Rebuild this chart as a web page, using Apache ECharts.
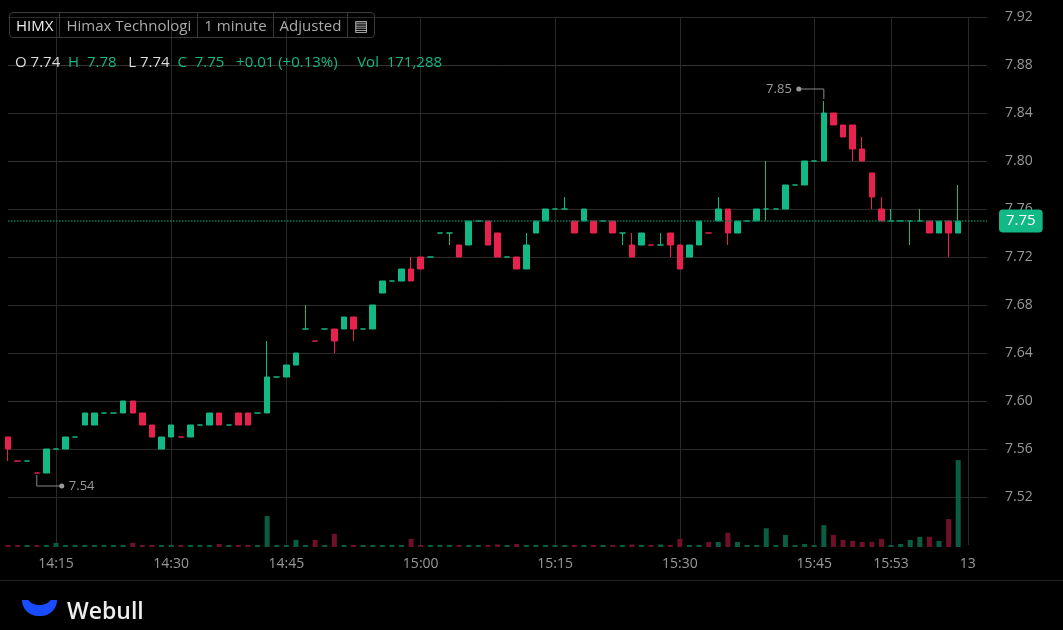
<!DOCTYPE html>
<html>
<head>
<meta charset="utf-8">
<title>HIMX 1 minute</title>
<script src="https://cdn.jsdelivr.net/npm/echarts@6/dist/echarts.min.js"></script>
<style>
  html, body { margin: 0; padding: 0; background: #000; font-family: "Open Sans", sans-serif; }
  #chart { width: 1063px; height: 630px; }
  .hdr { position: absolute; left: 9px; top: 12px; height: 24px; border: 1px solid #3a3a3a; border-radius: 4px; display: flex; font-size: 15px; color: #aaa; }
  .hdr span { padding: 0 6px; line-height: 24px; border-right: 1px solid #3a3a3a; }
  .hdr span:last-child { border-right: none; }
  .ohlc { position: absolute; left: 15px; top: 51px; font-size: 15px; color: #ddd; white-space: pre; }
  .g { color: #12b886; }
  .logo { position: absolute; left: 22px; top: 594px; display: flex; align-items: center; color: #eee; font-size: 23px; font-weight: 600; }
  .moon { position: relative; width: 35px; height: 16px; border-radius: 0 0 18px 18px; background: #1a4cff; margin-right: 10px; margin-top: -4px; overflow: hidden; }
  .moon:after { content: ''; position: absolute; left: 3px; top: -9px; width: 29px; height: 14px; border-radius: 0 0 15px 15px; background: #000; }
  .sep { position: absolute; left: 0; top: 580px; width: 1063px; height: 1px; background: #222; }
</style>
</head>
<body>
<div id="chart"></div>
<div class="sep"></div>
<div class="hdr"><span style="color:#eee">HIMX</span><span>Himax Technologi</span><span>1 minute</span><span>Adjusted</span><span style="color:#ccc">&#9636;</span></div>
<div class="ohlc">O 7.74  <span class="g">H  7.78</span>   L 7.74  <span class="g">C  7.75   +0.01 (+0.13%)     Vol  171,288</span></div>
<div class="logo"><div class="moon"></div>Webull</div>
<script>
// 1 minute bars, 100 candles
var opens  = [7.57,7.55,7.55,7.54,7.54,7.56,7.56,7.57,7.58,7.58,7.59,7.59,7.59,7.60,7.59,7.58,7.56,7.57,7.57,7.57,
              7.58,7.58,7.59,7.58,7.59,7.59,7.59,7.59,7.62,7.62,7.63,7.66,7.65,7.66,7.66,7.66,7.67,7.66,7.66,7.69,
              7.70,7.70,7.71,7.72,7.72,7.74,7.74,7.73,7.73,7.75,7.75,7.74,7.72,7.72,7.71,7.74,7.75,7.76,7.76,7.75,
              7.75,7.75,7.75,7.75,7.74,7.73,7.73,7.73,7.73,7.74,7.73,7.72,7.73,7.74,7.75,7.76,7.74,7.75,7.75,7.76,
              7.76,7.76,7.78,7.78,7.80,7.80,7.84,7.83,7.83,7.81,7.79,7.76,7.75,7.75,7.75,7.75,7.75,7.74,7.75,7.74];
var closes = [7.56,7.55,7.55,7.54,7.56,7.56,7.57,7.57,7.59,7.59,7.59,7.59,7.60,7.59,7.58,7.57,7.57,7.58,7.57,7.58,
              7.58,7.59,7.58,7.58,7.58,7.58,7.59,7.62,7.62,7.63,7.64,7.66,7.65,7.66,7.65,7.67,7.66,7.66,7.68,7.70,
              7.70,7.71,7.70,7.71,7.72,7.74,7.74,7.72,7.75,7.75,7.73,7.72,7.72,7.71,7.73,7.75,7.76,7.76,7.76,7.74,
              7.76,7.74,7.75,7.74,7.74,7.72,7.74,7.73,7.73,7.73,7.71,7.73,7.75,7.74,7.76,7.74,7.75,7.75,7.76,7.76,
              7.76,7.78,7.78,7.80,7.80,7.84,7.83,7.82,7.81,7.80,7.77,7.75,7.75,7.75,7.75,7.75,7.74,7.75,7.74,7.75];
var lows   = [7.55,7.55,7.55,7.54,7.54,7.56,7.56,7.57,7.58,7.58,7.59,7.59,7.59,7.59,7.58,7.57,7.56,7.57,7.57,7.57,
              7.58,7.58,7.58,7.58,7.58,7.58,7.59,7.59,7.62,7.62,7.63,7.66,7.65,7.66,7.64,7.66,7.65,7.66,7.66,7.69,
              7.70,7.70,7.70,7.71,7.72,7.74,7.73,7.72,7.73,7.75,7.73,7.72,7.72,7.71,7.71,7.74,7.75,7.76,7.76,7.74,
              7.75,7.74,7.75,7.74,7.73,7.72,7.73,7.73,7.73,7.72,7.71,7.72,7.73,7.74,7.75,7.73,7.74,7.75,7.75,7.75,
              7.76,7.76,7.78,7.78,7.80,7.80,7.83,7.82,7.80,7.80,7.76,7.75,7.75,7.75,7.73,7.75,7.74,7.74,7.72,7.74];
var highs  = [7.57,7.55,7.55,7.54,7.56,7.56,7.57,7.57,7.59,7.59,7.59,7.59,7.60,7.60,7.59,7.58,7.57,7.58,7.57,7.58,
              7.58,7.59,7.59,7.58,7.59,7.59,7.59,7.65,7.62,7.63,7.64,7.68,7.65,7.66,7.66,7.67,7.67,7.66,7.68,7.70,
              7.70,7.71,7.72,7.72,7.72,7.74,7.74,7.73,7.75,7.75,7.75,7.74,7.72,7.72,7.74,7.75,7.76,7.76,7.77,7.75,
              7.76,7.75,7.75,7.75,7.74,7.74,7.74,7.73,7.74,7.74,7.73,7.73,7.75,7.74,7.77,7.76,7.75,7.75,7.76,7.80,
              7.76,7.78,7.78,7.80,7.80,7.85,7.84,7.83,7.83,7.82,7.79,7.77,7.76,7.75,7.75,7.76,7.75,7.75,7.75,7.78];
var volumes = [4000,4000,4000,4000,4000,8000,4000,4000,4000,4000,4000,4000,4000,8000,4000,4000,4000,4000,4000,4000,
               4000,4000,6000,4000,4000,4000,4000,61000,4000,4000,14000,4000,14000,4000,26000,4000,4000,4000,4000,4000,
               4000,4000,16000,4000,4000,4000,4000,4000,4000,4000,4000,5000,4000,6000,4000,4000,4000,4000,4000,4000,
               4000,4000,4000,4000,4000,5000,4000,4000,5000,4000,16000,4000,4000,10000,10000,28000,10000,4000,4000,37000,
               4000,24000,4000,6000,4000,43000,24000,14000,12000,10000,10000,16000,4000,6000,14000,20000,20000,12000,55000,171288];
var timeTicks  = [5, 17, 29, 43, 57, 70, 84, 92, 100];
var timeLabels = ['14:15', '14:30', '14:45', '15:00', '15:15', '15:30', '15:45', '15:53', '13'];
var lastPrice = 7.75;

var UP = '#12b886', DOWN = '#e8214f';
var cats = [];
for (var i = 0; i < 103; i++) cats.push('');
timeTicks.forEach(function (t, k) { cats[t] = timeLabels[k]; });

function isUp(i) {
  if (closes[i] !== opens[i]) return closes[i] > opens[i];
  return i === 0 || closes[i] >= closes[i - 1];
}
var ohlc = opens.map(function (o, i) {
  var item = { value: [o, closes[i], lows[i], highs[i]] };
  if (closes[i] === o && !isUp(i)) item.itemStyle = { borderColor: DOWN, borderColorDoji: DOWN, color: DOWN };
  return item;
});
var volData = volumes.map(function (v, i) {
  return { value: v, itemStyle: { color: isUp(i) ? '#0a5c42' : '#6e1028' } };
});
function isTick(i) { return timeTicks.indexOf(i) >= 0; }

// first horizontal line (bottom, 7.48) hidden, the rest grey
var gridColors = ['rgba(0,0,0,0)', '#2a2a2a', '#2a2a2a', '#333', '#2a2a2a', '#2a2a2a', '#2a2a2a', '#2a2a2a', '#333', '#2a2a2a', '#333', '#2a2a2a'];

var chart = echarts.init(document.getElementById('chart'));
chart.setOption({
  backgroundColor: '#000',
  animation: false,
  grid: [
    { left: 8, right: 76, top: 17, bottom: 85 },
    { left: 8, right: 76, top: 447, bottom: 83 }
  ],
  xAxis: [{
    type: 'category', data: cats, boundaryGap: false, gridIndex: 0,
    axisLine: { show: false }, axisTick: { show: false },
    axisLabel: { interval: function (i) { return isTick(i); }, color: '#999', fontSize: 14, margin: 12, fontFamily: 'Open Sans' },
    splitLine: { show: true, interval: function (i) { return isTick(i); }, lineStyle: { color: '#2a2a2a' } }
  }, {
    type: 'category', data: cats, boundaryGap: false, gridIndex: 1,
    axisLine: { show: false }, axisTick: { show: false }, axisLabel: { show: false }
  }],
  yAxis: [{
    type: 'value', position: 'right', min: 7.48, max: 7.92, interval: 0.04, gridIndex: 0,
    axisLine: { show: false }, axisTick: { show: false },
    axisLabel: { color: '#999', fontSize: 14, margin: 18, fontFamily: 'Open Sans',
      formatter: function (v) { return v <= 7.49 ? '' : v.toFixed(2); } },
    splitLine: { lineStyle: { color: gridColors } }
  }, {
    type: 'value', min: 0, max: 197000, gridIndex: 1, show: false, splitLine: { show: false }
  }],
  series: [{
    type: 'bar', xAxisIndex: 1, yAxisIndex: 1, data: volData, barWidth: 5, barMinHeight: 2
  }, {
    type: 'candlestick', data: ohlc, barWidth: 6,
    itemStyle: { color: UP, color0: DOWN, borderColor: UP, borderColor0: DOWN, borderColorDoji: UP },
    markLine: {
      silent: true, symbol: 'none',
      lineStyle: { color: '#0b7a5a', type: 'dotted', width: 1.5 },
      label: { position: 'end', distance: 12, color: '#fff', fontSize: 15, backgroundColor: '#12b886',
        padding: [4, 7], borderRadius: 4, fontFamily: 'Open Sans', formatter: function () { return lastPrice.toFixed(2); } },
      data: [{ yAxis: lastPrice }]
    }
  }]
});

// high / low markers drawn from the axis scales
var hiIdx = highs.indexOf(Math.max.apply(null, highs));
var loIdx = lows.indexOf(Math.min.apply(null, lows));
var hp = chart.convertToPixel({ gridIndex: 0 }, [hiIdx, highs[hiIdx]]);
var lp = chart.convertToPixel({ gridIndex: 0 }, [loIdx, lows[loIdx]]);
chart.setOption({
  graphic: [
    { type: 'polyline', shape: { points: [[hp[0], hp[1] - 2], [hp[0], hp[1] - 12], [hp[0] - 25, hp[1] - 12]] }, style: { stroke: '#888', fill: null, lineWidth: 1 } },
    { type: 'circle', shape: { cx: hp[0] - 25, cy: hp[1] - 12, r: 2.5 }, style: { fill: '#999' } },
    { type: 'text', x: hp[0] - 32, y: hp[1] - 12, style: { text: highs[hiIdx].toFixed(2), fill: '#999', font: '13px "Open Sans"', align: 'right', verticalAlign: 'middle' } },
    { type: 'polyline', shape: { points: [[lp[0], lp[1] + 2], [lp[0], lp[1] + 13], [lp[0] + 25, lp[1] + 13]] }, style: { stroke: '#888', fill: null, lineWidth: 1 } },
    { type: 'circle', shape: { cx: lp[0] + 25, cy: lp[1] + 13, r: 2.5 }, style: { fill: '#999' } },
    { type: 'text', x: lp[0] + 32, y: lp[1] + 13, style: { text: lows[loIdx].toFixed(2), fill: '#999', font: '13px "Open Sans"', align: 'left', verticalAlign: 'middle' } }
  ]
});
</script>
</body>
</html>
